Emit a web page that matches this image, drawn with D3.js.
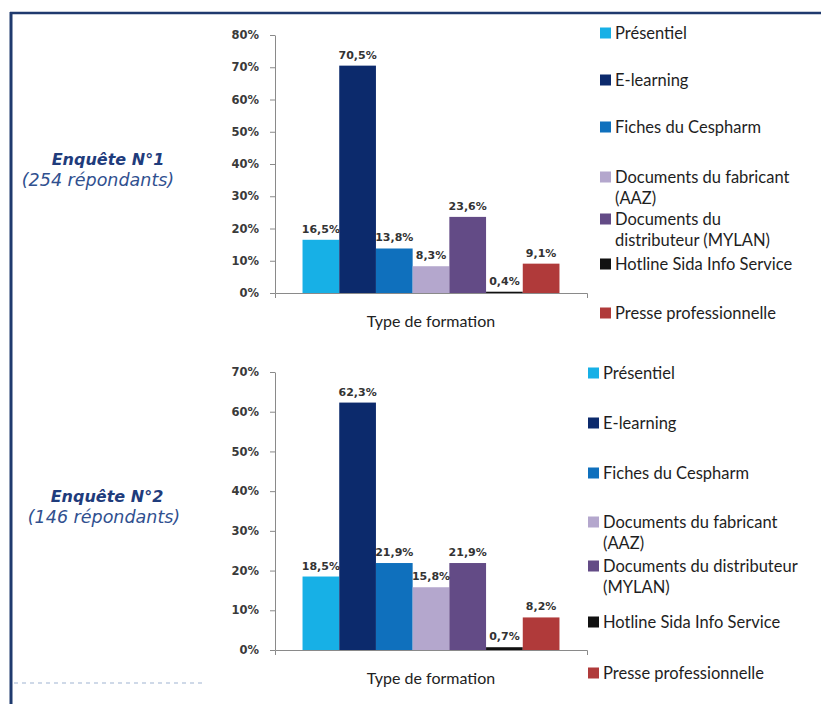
<!DOCTYPE html>
<html>
<head>
<meta charset="utf-8">
<script src="https://cdn.jsdelivr.net/npm/d3@7"></script>
<style>
  body { margin: 0; background: #fff; }
  svg { display: block; }
</style>
</head>
<body>
<svg width="821" height="704"></svg>
<script>
// data
const category = "Type de formation";
const series = ["Présentiel", "E-learning", "Fiches du Cespharm", "Documents du fabricant (AAZ)",
  "Documents du distributeur (MYLAN)", "Hotline Sida Info Service", "Presse professionnelle"];
const colors = ["#17b0e6", "#0c2a6c", "#0f70bd", "#b4a7cd", "#634b86", "#111111", "#b03a3a"];
const survey1 = [16.5, 70.5, 13.8, 8.3, 23.6, 0.4, 9.1];
const survey2 = [18.5, 62.3, 21.9, 15.8, 21.9, 0.7, 8.2];
const yTicks1 = [0, 10, 20, 30, 40, 50, 60, 70, 80];
const yTicks2 = [0, 10, 20, 30, 40, 50, 60, 70];
const legend1 = [["Présentiel"], ["E-learning"], ["Fiches du Cespharm"], ["Documents du fabricant", "(AAZ)"],
  ["Documents du", "distributeur (MYLAN)"], ["Hotline Sida Info Service"], ["Presse professionnelle"]];
const legend2 = [["Présentiel"], ["E-learning"], ["Fiches du Cespharm"], ["Documents du fabricant", "(AAZ)"],
  ["Documents du distributeur", "(MYLAN)"], ["Hotline Sida Info Service"], ["Presse professionnelle"]];
const titles1 = ["Enquête N°1", "(254 répondants)"];
const titles2 = ["Enquête N°2", "(146 répondants)"];

const svg = d3.select("svg");
const fmt = v => String(v).replace(".", ",") + "%";

// frame
svg.append("line").attr("x1", 10).attr("x2", 821).attr("y1", 13).attr("y2", 13)
  .attr("stroke", "#1f3a6e").attr("stroke-width", 2.5);
svg.append("line").attr("x1", 11).attr("x2", 11).attr("y1", 12).attr("y2", 704)
  .attr("stroke", "#1f3a6e").attr("stroke-width", 3);
svg.append("line").attr("x1", 14).attr("x2", 206).attr("y1", 683).attr("y2", 683)
  .attr("stroke", "#9fb3d1").attr("stroke-width", 1).attr("stroke-dasharray", "4,4");

function drawChart(cfg) {
  const g = svg.append("g");
  const y = d3.scaleLinear().domain([0, cfg.max]).range([cfg.y0, cfg.y1]);
  const x0 = d3.scaleBand().domain([category]).range([275, 587]);
  const x1 = d3.scaleBand().domain(series).range([0, x0.bandwidth()]).paddingOuter(0.75).paddingInner(0);

  // y axis
  const ya = g.append("g").attr("transform", "translate(275,0)")
    .call(d3.axisLeft(y).tickValues(cfg.ticks).tickFormat(d => d + "%").tickSizeOuter(0).tickSizeInner(5).tickPadding(11));
  ya.select(".domain").attr("stroke", "#8a8a8a");
  ya.selectAll(".tick line").attr("stroke", "#8a8a8a");
  ya.selectAll(".tick text").attr("font-family", "DejaVu Sans").attr("font-weight", "bold")
    .attr("font-size", 11.5).attr("fill", "#3a3a3a");

  // bars
  g.selectAll(".bar").data(cfg.values).enter().append("rect")
    .attr("x", (d, i) => x0(category) + x1(series[i]))
    .attr("width", x1.bandwidth())
    .attr("y", d => y(d))
    .attr("height", d => y(0) - y(d))
    .attr("fill", (d, i) => colors[i]);

  // value labels
  g.selectAll(".lab").data(cfg.values).enter().append("text")
    .attr("x", (d, i) => x0(category) + x1(series[i]) + x1.bandwidth() / 2)
    .attr("y", d => y(d) - 7)
    .attr("text-anchor", "middle")
    .attr("font-family", "DejaVu Sans").attr("font-weight", "bold").attr("font-size", 11)
    .attr("fill", "#333")
    .text(d => fmt(d));

  // x axis
  const xa = g.append("g").attr("transform", `translate(0,${cfg.y0})`)
    .call(d3.axisBottom(x0).tickSizeInner(0).tickSizeOuter(5).tickFormat(""));
  xa.select(".domain").attr("stroke", "#8a8a8a");
  g.append("text").attr("x", x0(category) + x0.bandwidth() / 2).attr("y", cfg.y0 + 34)
    .attr("text-anchor", "middle").attr("font-family", "Lato").attr("font-size", 16)
    .attr("fill", "#222").text(category);

  // legend
  const lg = g.selectAll(".leg").data(cfg.legend).enter().append("g")
    .attr("transform", (d, i) => `translate(${cfg.legX},${cfg.legY[i]})`);
  lg.append("rect").attr("x", 0).attr("y", -5.5).attr("width", 11).attr("height", 11)
    .attr("fill", (d, i) => colors[i]);
  lg.each(function (lines) {
    d3.select(this).selectAll("text").data(lines).enter().append("text")
      .attr("x", 15).attr("y", (l, j) => j * 21 + 6)
      .attr("font-family", "Lato").attr("font-size", 16.5).attr("fill", "#1e1e1e")
      .text(l => l);
  });

  // survey title
  g.append("text").attr("text-anchor", "middle").attr("font-family", "DejaVu Sans")
    .attr("font-style", "italic").attr("font-weight", "bold").attr("font-size", 16)
    .attr("x", cfg.titleX).attr("y", cfg.titleY).attr("fill", "#1f3c7c").text(cfg.titles[0]);
  g.append("text").attr("text-anchor", "middle").attr("font-family", "DejaVu Sans")
    .attr("font-style", "italic").attr("font-size", 17.5)
    .attr("x", cfg.subX).attr("y", cfg.titleY + 21).attr("fill", "#30508f").text(cfg.titles[1]);
}

drawChart({
  values: survey1, max: 80, ticks: yTicks1, y0: 293, y1: 35,
  legend: legend1, legX: 600, legY: [33, 80, 127, 177, 219, 264, 313],
  titles: titles1, titleX: 108, subX: 98, titleY: 165
});
drawChart({
  values: survey2, max: 70, ticks: yTicks2, y0: 650, y1: 372,
  legend: legend2, legX: 588, legY: [373, 423, 473, 522, 566, 622, 673],
  titles: titles2, titleX: 107, subX: 104, titleY: 502
});
</script>
</body>
</html>
